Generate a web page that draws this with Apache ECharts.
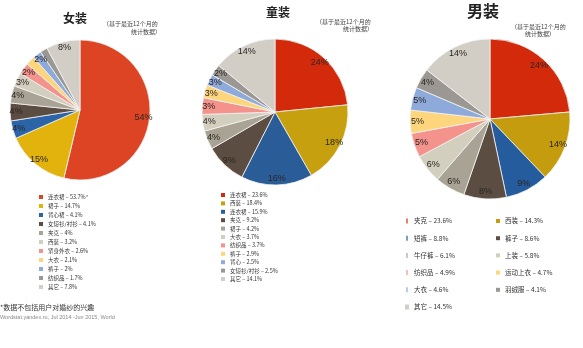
<!DOCTYPE html>
<html>
<head>
<meta charset="utf-8">
<script src="https://cdn.jsdelivr.net/npm/echarts@6/dist/echarts.min.js"></script>
<style>
  html, body { margin: 0; padding: 0; background: #fff; }
  #chart { width: 583px; height: 348px; }
</style>
</head>
<body>
<div id="chart"></div>
<script>
// 女装
const womenNames = ['连衣裙', '裙子', '背心裙', '女短衫/衬衫', '夹克', '西装', '紧身外衣', '大衣', '裤子', '纺织品', '其它']
const womenValues = [53.7, 14.7, 4.1, 4.1, 4, 3.2, 2.6, 2.1, 2, 1.7, 7.8]
const womenMarks = ['*', '', '', '', '', '', '', '', '', '', '']
const womenLabels = [54, 15, 4, 4, 4, 3, 2, 2, 2, 2, 8]
const womenColors = ['#dd4424', '#e2b30c', '#2c64a8', '#5c4d42', '#a8a394', '#d3cfbf', '#f4928c', '#fdd57c', '#8eaadb', '#9b9792', '#d2cec6']

// 童装
const kidsNames = ['连衣裙', '西装', '连衣裙', '夹克', '裙子', '大衣', '纺织品', '裤子', '背心', '女短衫/衬衫', '其它']
const kidsValues = [23.6, 18.4, 15.9, 9.2, 4.2, 3.7, 3.7, 2.9, 2.5, 2.5, 14.1]
const kidsLabels = [24, 18, 16, 9, 4, 4, 3, 3, 3, 2, 14]
const kidsColors = ['#d42a0c', '#c6a00e', '#2a5c98', '#5c4d42', '#a8a394', '#d3cfbf', '#f4928c', '#fdd57c', '#8eaadb', '#9b9792', '#d2cec6']

// 男装
const menNames = ['夹克', '西装', '短裤', '裤子', '牛仔裤', '上装', '纺织品', '运动上衣', '大衣', '羽绒服', '其它']
const menValues = [23.6, 14.3, 8.8, 8.6, 6.1, 5.8, 4.9, 4.7, 4.6, 4.1, 14.5]
const menLabels = [24, 14, 9, 8, 6, 6, 5, 5, 5, 4, 14]
const menColors = ['#d32a0c', '#c49c0e', '#245c9e', '#5c4d42', '#a8a394', '#d3cfbf', '#f4928c', '#fdd57c', '#8eaadb', '#9b9792', '#d2cec6']

const cjk = "'Noto Sans CJK SC', sans-serif"

function legendName(names, values, i, marks) {
  return names[i] + ' – ' + values[i] + '%' + (marks ? marks[i] : '')
}

function buildData(names, values, colors, marks) {
  return names.map((n, i) => ({
    name: legendName(names, values, i, marks),
    value: values[i],
    itemStyle: { color: colors[i] }
  }))
}

function pieSeries(center, r, names, values, colors, labels, marks) {
  const data = buildData(names, values, colors, marks)
  return [
    {
      type: 'pie',
      center: center,
      radius: [0, r],
      startAngle: 90,
      clockwise: true,
      silent: true,
      label: { show: false },
      labelLine: { show: false },
      itemStyle: { borderColor: '#f4f4f4', borderWidth: 0.8 },
      data: data
    },
    {
      type: 'pie',
      center: center,
      radius: [r * 0.74, r],
      startAngle: 90,
      clockwise: true,
      silent: true,
      avoidLabelOverlap: false,
      itemStyle: { color: 'transparent', borderWidth: 0 },
      label: {
        show: true,
        position: 'inside',
        fontFamily: 'Arial, Liberation Sans, sans-serif',
        fontSize: 9,
        color: '#2a2622',
        formatter: p => labels[p.dataIndex] + '%'
      },
      labelLine: { show: false },
      data: data.map(d => ({ name: d.name, value: d.value }))
    }
  ]
}

function legendItems(names, values, colors, marks, idx, icon) {
  return idx.map(i => ({
    name: legendName(names, values, i, marks),
    icon: icon ? icon(i) : 'rect',
    itemStyle: { color: colors[i], borderWidth: 0 }
  }))
}

const all = [0, 1, 2, 3, 4, 5, 6, 7, 8, 9, 10]
const thin = 'path://M0,0h1.2v5h-1.2z'

const chart = echarts.init(document.getElementById('chart'))
chart.setOption({
  backgroundColor: '#fff',
  animation: false,
  title: [
    { text: '女装', left: 63, top: 12, padding: 0, textStyle: { fontFamily: cjk, fontSize: 12, fontWeight: 'bold', color: '#222' } },
    { text: '（基于最近12个月的', left: 103, top: 21, padding: 0, textStyle: { fontFamily: cjk, fontSize: 6, fontWeight: 'normal', color: '#444' } },
    { text: '统计数据）', left: 131, top: 29, padding: 0, textStyle: { fontFamily: cjk, fontSize: 6, fontWeight: 'normal', color: '#444' } },
    { text: '童装', left: 266, top: 6, padding: 0, textStyle: { fontFamily: cjk, fontSize: 12, fontWeight: 'bold', color: '#222' } },
    { text: '（基于最近12个月的', left: 316, top: 19, padding: 0, textStyle: { fontFamily: cjk, fontSize: 6, fontWeight: 'normal', color: '#444' } },
    { text: '统计数据）', left: 343, top: 26, padding: 0, textStyle: { fontFamily: cjk, fontSize: 6, fontWeight: 'normal', color: '#444' } },
    { text: '男装', left: 467, top: 3, padding: 0, textStyle: { fontFamily: cjk, fontSize: 16, fontWeight: 'bold', color: '#222' } },
    { text: '（基于最近12个月的', left: 511, top: 24, padding: 0, textStyle: { fontFamily: cjk, fontSize: 6, fontWeight: 'normal', color: '#444' } },
    { text: '统计数据）', left: 525, top: 31, padding: 0, textStyle: { fontFamily: cjk, fontSize: 6, fontWeight: 'normal', color: '#444' } },
    { text: '*数据不包括用户对婚纱的兴趣', left: 0, top: 304, padding: 0, textStyle: { fontFamily: cjk, fontSize: 7, fontWeight: 'normal', color: '#333' } },
    { text: 'Wordstat.yandex.ru, Jul 2014 -Jun 2015, World', left: 0, top: 314, padding: 0, textStyle: { fontFamily: 'Arial, Liberation Sans, sans-serif', fontSize: 5.5, fontWeight: 'normal', color: '#888' } }
  ],
  legend: [
    {
      orient: 'vertical', left: 39, top: 194, padding: 0,
      itemWidth: 4, itemHeight: 4, itemGap: 3,
      selectedMode: false,
      textStyle: { fontFamily: cjk, fontSize: 5.5, lineHeight: 6, color: '#333' },
      data: legendItems(womenNames, womenValues, womenColors, womenMarks, all)
    },
    {
      orient: 'vertical', left: 221, top: 192, padding: 0,
      itemWidth: 4, itemHeight: 4, itemGap: 2.4,
      selectedMode: false,
      textStyle: { fontFamily: cjk, fontSize: 5.5, lineHeight: 6, color: '#333' },
      data: legendItems(kidsNames, kidsValues, kidsColors, null, all)
    },
    {
      orient: 'vertical', left: 405, top: 217, padding: 0,
      itemWidth: 4, itemHeight: 5, itemGap: 9.2,
      selectedMode: false,
      textStyle: { fontFamily: cjk, fontSize: 6.5, lineHeight: 8, color: '#333' },
      data: legendItems(menNames, menValues, menColors, null, [0, 2, 4, 6, 8, 10], i => (i === 10 ? 'rect' : thin))
    },
    {
      orient: 'vertical', left: 496, top: 217, padding: 0,
      itemWidth: 4, itemHeight: 4, itemGap: 9.2,
      selectedMode: false,
      textStyle: { fontFamily: cjk, fontSize: 6.5, lineHeight: 8, color: '#333' },
      data: legendItems(menNames, menValues, menColors, null, [1, 3, 5, 7, 9])
    }
  ],
  series: [
    ...pieSeries([80, 110], 70, womenNames, womenValues, womenColors, womenLabels, womenMarks),
    ...pieSeries([275, 112], 73, kidsNames, kidsValues, kidsColors, kidsLabels, null),
    ...pieSeries([490, 119], 80, menNames, menValues, menColors, menLabels, null)
  ]
})
</script>
</body>
</html>
